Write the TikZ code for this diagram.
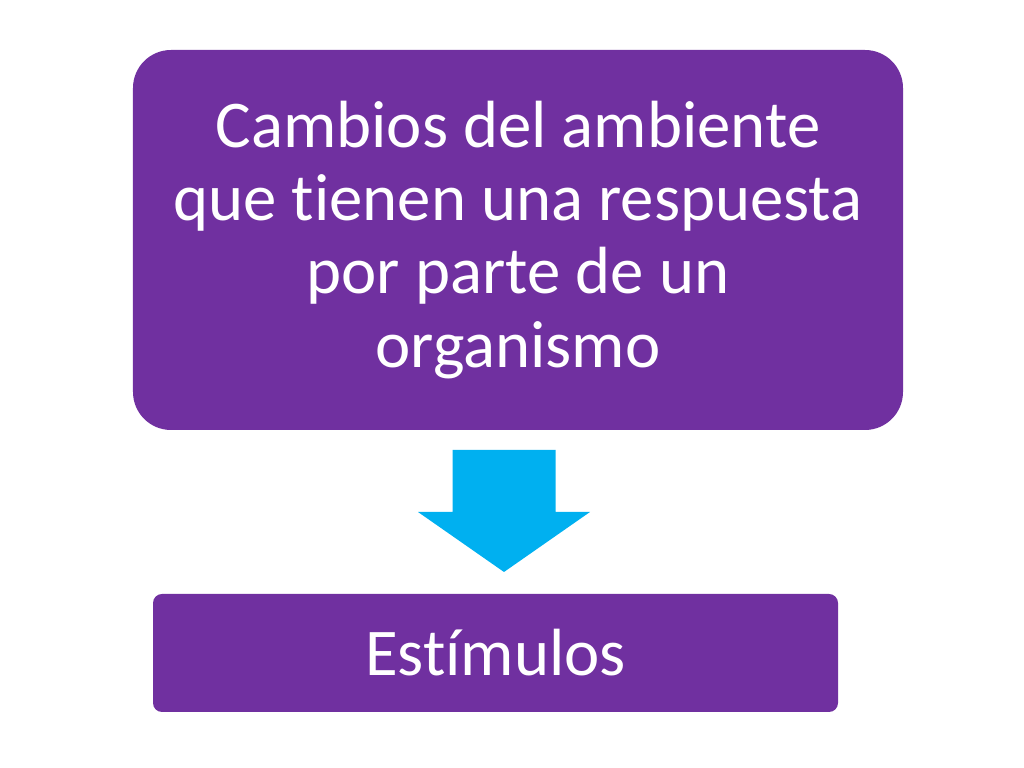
\documentclass[tikz,border=0pt]{standalone}
\usepackage{fontspec}
\setmainfont{Carlito}[Ligatures=NoCommon]
\usepackage{xcolor}
\usepackage{tikz}
\usetikzlibrary{positioning}
\usetikzlibrary{calc}
\definecolor{boxpurple}{HTML}{7030A0}
\definecolor{arrowcyan}{HTML}{00B0F0}
\tikzstyle{blockarrow} = [fill=arrowcyan, draw=none]

\begin{document}
\begin{tikzpicture}[%
      auto,
      box/.style={fill=boxpurple,
      draw=none,
      text=white,
      align=center,
      font=\fontsize{19}{20.8}\selectfont}]
    \useasboundingbox (0,0) rectangle (10.24,7.68);
    %% Cambios
    \node [box, rounded corners=0.38cm, minimum width=7.70cm, minimum height=3.80cm] at (5.18,5.28) (cambios)
      {Cambios del ambiente\\que tienen una respuesta\\por parte de un\\organismo};
    %% Estimulos
    \node [box, rounded corners=0.09cm, minimum width=6.85cm, minimum height=1.18cm] at (4.955,1.15) (estimulos) {Estímulos};
    %% Arrow
    \coordinate (top) at (5.04,3.18);
    \coordinate (tip) at (5.04,1.96);
    \fill [blockarrow] ($(top)+(-0.515,0)$) -- ($(top)+(0.515,0)$) -- ($(top)+(0.515,-0.62)$)
      -- ($(top)+(0.86,-0.62)$) -- (tip) -- ($(top)+(-0.86,-0.62)$)
      -- ($(top)+(-0.515,-0.62)$) -- cycle;
\end{tikzpicture}
\end{document}
